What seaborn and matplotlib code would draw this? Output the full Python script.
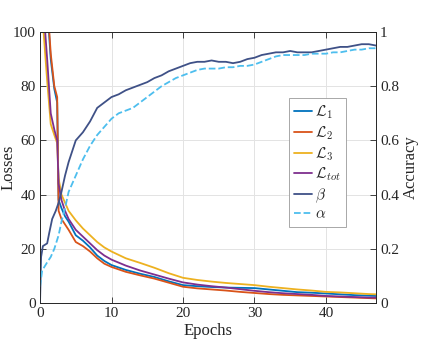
import matplotlib
matplotlib.use("Agg")
import matplotlib.pyplot as plt
import seaborn as sns

# loss curves (left axis)
loss_epochs = [0, 0.5, 1, 1.5, 2, 2.4, 2.6, 3, 3.5, 4, 5, 6, 7, 8, 9, 10, 12, 14, 16, 18,
               20, 22, 24, 26, 28, 30, 32, 34, 36, 38, 40, 42, 44, 46, 47]
loss_1 = [160, 128, 110, 90, 79, 74, 38, 35, 32, 30, 25, 23, 20.5, 17.5, 15.5, 14, 12.2, 10.8, 9.6, 8.0,
          6.6, 6.2, 5.9, 5.7, 5.6, 5.5, 5.0, 4.5, 4.0, 3.8, 3.5, 3.2, 2.9, 2.7, 2.6]
loss_2 = [160, 130, 112, 92, 80, 76, 34, 31, 29, 27, 22.5, 21, 19, 16.5, 14.5, 13.3, 11.5, 10.2, 9.0, 7.5,
          6.0, 5.4, 5.0, 4.6, 4.1, 3.7, 3.3, 3.0, 2.8, 2.6, 2.4, 2.2, 2.0, 1.8, 1.7]
loss_3 = [135, 100, 82, 66, 62, 59, 46, 40, 37, 34, 30.5, 27.5, 25, 22.5, 20.5, 19, 16.5, 14.8, 13, 11,
          9.3, 8.5, 7.9, 7.4, 7.0, 6.6, 6.0, 5.5, 5.0, 4.6, 4.1, 3.9, 3.6, 3.3, 3.2]
loss_tot = [140, 108, 90, 70, 64, 60, 44, 38, 34, 31, 27, 24.5, 22, 19.5, 17.5, 16, 13.8, 12, 10.5, 9,
            7.6, 6.8, 6.2, 5.7, 5.1, 4.5, 4.0, 3.6, 3.3, 3.0, 2.6, 2.4, 2.2, 2.0, 2.0]

# accuracy curves (right axis)
beta_epochs = [0, 0.15, 0.4, 1, 1.3, 1.7, 2.2, 2.6, 3, 3.5, 4, 4.5, 5, 6, 7, 8, 9, 10, 11, 12, 13, 14,
               15, 16, 17, 18, 19, 20, 21, 22, 23, 24, 25, 26, 27, 28, 29, 30, 31, 32, 33, 34, 35,
               36, 37, 38, 39, 40, 41, 42, 43, 44, 45, 46, 47]
beta = [0, 0.17, 0.21, 0.22, 0.26, 0.31, 0.34, 0.37, 0.41, 0.47, 0.52, 0.56, 0.6, 0.63, 0.67, 0.72,
        0.74, 0.76, 0.77, 0.785, 0.795, 0.805, 0.815, 0.83, 0.84, 0.855, 0.865, 0.875, 0.885, 0.89,
        0.89, 0.895, 0.89, 0.89, 0.885, 0.89, 0.9, 0.905, 0.915, 0.92, 0.925, 0.925, 0.93, 0.925,
        0.925, 0.925, 0.93, 0.935, 0.94, 0.945, 0.945, 0.95, 0.955, 0.955, 0.95]
alpha_epochs = [0, 0.3, 1, 1.5, 2, 2.6, 3, 3.5, 4, 5, 6, 7, 8, 9, 10, 11, 12, 13, 14, 15, 16, 17, 18,
                19, 20, 21, 22, 23, 24, 25, 26, 27, 28, 29, 30, 31, 32, 33, 34, 35, 36, 37, 38, 39,
                40, 41, 42, 43, 44, 45, 46, 47]
alpha = [0.06, 0.12, 0.15, 0.17, 0.2, 0.25, 0.3, 0.35, 0.41, 0.47, 0.53, 0.58, 0.62, 0.65, 0.68, 0.7,
         0.71, 0.72, 0.74, 0.76, 0.78, 0.8, 0.815, 0.83, 0.84, 0.85, 0.86, 0.865, 0.865, 0.865, 0.87,
         0.87, 0.875, 0.875, 0.88, 0.89, 0.9, 0.91, 0.915, 0.915, 0.915, 0.915, 0.92, 0.92, 0.92,
         0.925, 0.925, 0.93, 0.935, 0.935, 0.94, 0.94]

sns.set_style("ticks")
plt.rcParams["font.family"] = ["Liberation Serif", "DejaVu Serif"]
plt.rcParams["mathtext.fontset"] = "cm"
plt.rcParams["font.size"] = 11

fig = plt.figure(figsize=(4.28, 3.49), dpi=100)
ax = fig.add_axes([0.0935, 0.1318, 0.785, 0.7765])
ax2 = ax.twinx()

sns.lineplot(x=loss_epochs, y=loss_1, ax=ax, color="#0072BD", lw=1.3, label=r"$\mathcal{L}_1$")
sns.lineplot(x=loss_epochs, y=loss_2, ax=ax, color="#D95319", lw=1.3, label=r"$\mathcal{L}_2$")
sns.lineplot(x=loss_epochs, y=loss_3, ax=ax, color="#EDB120", lw=1.3, label=r"$\mathcal{L}_3$")
sns.lineplot(x=loss_epochs, y=loss_tot, ax=ax, color="#7E2F8E", lw=1.3, label=r"$\mathcal{L}_{tot}$")
sns.lineplot(x=beta_epochs, y=beta, ax=ax2, color="#3F5187", lw=1.3, label=r"$\beta$")
sns.lineplot(x=alpha_epochs, y=alpha, ax=ax2, color="#4DBEEE", lw=1.3, ls="--", label=r"$\alpha$")

ax.set_xlim(0, 47)
ax.set_ylim(0, 100)
ax2.set_ylim(0, 1)
ax.set_xticks([0, 10, 20, 30, 40])
ax.set_yticks([0, 20, 40, 60, 80, 100])
ax2.set_yticks([0, 0.2, 0.4, 0.6, 0.8, 1])
ax2.set_yticklabels(["0", "0.2", "0.4", "0.6", "0.8", "1"])
ax.set_xlabel("Epochs", fontsize=12, labelpad=2)
ax.set_ylabel("Losses", fontsize=12)
ax.yaxis.set_label_coords(-0.07, 0.5)
ax2.set_ylabel("Accuracy", fontsize=12)
ax2.yaxis.set_label_coords(1.08, 0.5)

ax.grid(True, color="#e3e3e3", lw=0.7)
ax.tick_params(direction="in", top=True, length=4, width=0.6, colors="#262626", labelsize=11, pad=3)
ax2.tick_params(direction="in", length=4, width=0.6, colors="#262626", labelsize=11, pad=3)
for a in (ax, ax2):
    for s in a.spines.values():
        s.set_color("#262626")
        s.set_linewidth(0.6)

h1, l1 = ax.get_legend_handles_labels()
h2, l2 = ax2.get_legend_handles_labels()
ax.get_legend().remove()
ax2.get_legend().remove()
leg = ax2.legend(h1 + h2, l1 + l2, loc="upper left", bbox_to_anchor=(0.74, 0.755),
                 handlelength=1.2, handletextpad=0.2, labelspacing=0.2, borderpad=0.35,
                 borderaxespad=0, fancybox=False, framealpha=1, edgecolor="#9a9a9a", fontsize=11)
leg.get_frame().set_linewidth(0.6)

fig.savefig("out.png", dpi=100)
